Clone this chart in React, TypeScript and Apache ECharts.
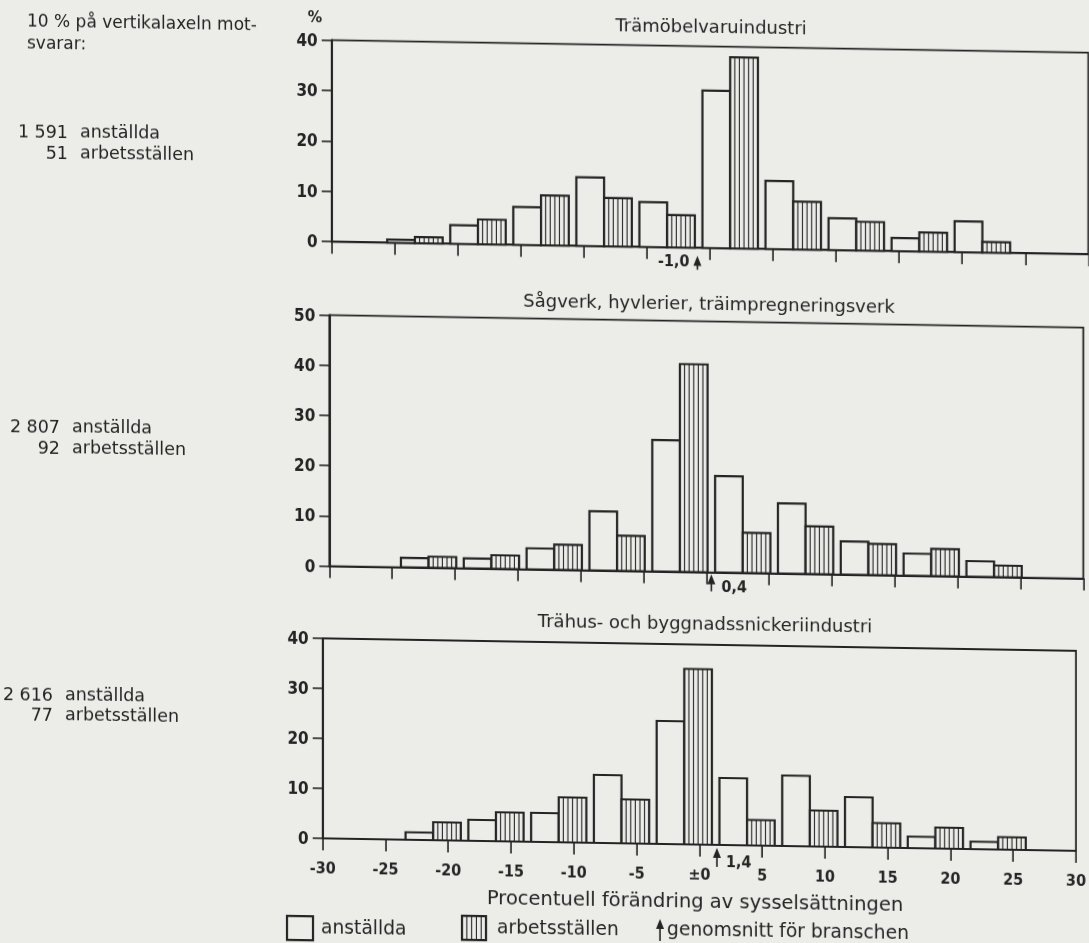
import React, { useEffect, useRef } from "react";
import * as echarts from "echarts";

// ---------- data ----------
const panelTitles = [
  "Trämöbelvaruindustri",
  "Sågverk, hyvlerier, träimpregneringsverk",
  "Trähus- och byggnadssnickeriindustri",
];
const employeesTotal = ["1 591", "2 807", "2 616"];
const workplacesTotal = ["51", "92", "77"];
const yMaxes = [40, 50, 40];

// bin centres (percentage change) of each pair of bars, as drawn in each panel
const binsTop = [-23.4, -18.4, -13.4, -8.4, -3.4, 1.6, 6.6, 11.6, 16.6, 21.6];
const binsMid = [-22.1, -17.1, -12.1, -7.1, -2.1, 2.9, 7.9, 12.9, 17.9, 22.9];
const binsBot = [-21.2, -16.2, -11.2, -6.2, -1.2, 3.8, 8.8, 13.8, 18.8, 23.8];

// % of employees (anställda) and of workplaces (arbetsställen)
const anstTop = [0.6, 3.7, 7.5, 13.6, 8.9, 31.2, 13.5, 6.3, 2.6, 6.1];
const arbTop = [1.2, 4.9, 9.9, 9.6, 6.4, 37.9, 9.5, 5.7, 3.8, 2.1];
const anstMid = [1.9, 2.0, 4.2, 11.8, 26.2, 19.2, 14.0, 6.6, 4.4, 3.1];
const arbMid = [2.2, 2.7, 5.0, 7.0, 41.4, 8.0, 9.5, 6.2, 5.4, 2.3];
const anstBot = [1.5, 4.2, 5.8, 13.6, 24.6, 13.4, 14.1, 10.0, 2.3, 1.5];
const arbBot = [3.6, 5.8, 9.0, 8.8, 35.1, 5.1, 7.2, 4.9, 4.2, 2.5];

// industry averages (genomsnitt för branschen)
const averages = [-1.0, 0.4, 1.4];

const noteLines = ["10 % på vertikalaxeln mot-", "svarar:"];
const xAxisTitle = "Procentuell förändring av sysselsättningen";
const legendLabels = ["anställda", "arbetsställen", "genomsnitt för branschen"];

// ---------- style ----------
const BG = "#ecece9";
const INK = "#242424";
const FONT = "'DejaVu Sans', 'Noto Sans', sans-serif";
const NUMFONT = "'Liberation Sans Narrow', 'DejaVu Sans Condensed', 'DejaVu Sans', sans-serif";
const T = 0.0165; // skew of the scanned page
const sy = (x: number, y: number) => y - x * T;

const HALF = 2.2;
const HATCH = 4.6;

const grids = [
  { left: 331.7, width: 756.6, top: sy(331.7, 40), height: 201.7 },
  { left: 329.3, width: 754, top: sy(329.3, 315), height: 251 },
  { left: 322.7, width: 757.5, top: sy(322.7, 638.3), height: 200 },
];

const arrowCfg = [
  { tip: 8, tail: 22, dx: -8, dy: 13, align: "right" },
  { tip: 2, tail: 19, dx: 10, dy: 14, align: "left" },
  { tip: 3, tail: 22, dx: 9, dy: 17, align: "left" },
];

function renderPair(params: any, api: any) {
  const c = api.value(0);
  const a = api.value(1);
  const b = api.value(2);
  const p0 = api.coord([c - HALF, 0]);
  const pm = api.coord([c, 0]);
  const p1 = api.coord([c + HALF, 0]);
  const ta = api.coord([c, a])[1];
  const tb = api.coord([c, b])[1];
  const children: any[] = [
    {
      type: "rect",
      shape: { x: p0[0], y: ta, width: pm[0] - p0[0], height: p0[1] - ta },
      style: { fill: BG, stroke: INK, lineWidth: 2.2 },
    },
    {
      type: "rect",
      shape: { x: pm[0], y: tb, width: p1[0] - pm[0], height: pm[1] - tb },
      style: { fill: BG, stroke: INK, lineWidth: 2.2 },
    },
  ];
  for (let x = pm[0] + HATCH; x < p1[0] - 1.5; x += HATCH) {
    children.push({
      type: "line",
      shape: { x1: x, y1: tb, x2: x, y2: pm[1] },
      style: { stroke: INK, lineWidth: 1.1 },
    });
  }
  return { type: "group", children };
}

function makeArrow(i: number) {
  const cfg = arrowCfg[i];
  return (params: any, api: any) => {
    const v = api.value(0);
    const p = api.coord([v, 0]);
    const label = v.toFixed(1).replace(".", ",");
    return {
      type: "group",
      children: [
        {
          type: "line",
          shape: { x1: p[0], y1: p[1] + cfg.tip + 6, x2: p[0], y2: p[1] + cfg.tail },
          style: { stroke: INK, lineWidth: 1.6 },
        },
        {
          type: "polygon",
          shape: {
            points: [
              [p[0], p[1] + cfg.tip],
              [p[0] - 4, p[1] + cfg.tip + 10],
              [p[0] + 4, p[1] + cfg.tip + 10],
            ],
          },
          style: { fill: INK },
        },
        {
          type: "text",
          x: p[0] + cfg.dx,
          y: p[1] + cfg.dy,
          style: {
            text: label,
            fill: INK,
            fontSize: 16,
            fontWeight: "bold",
            fontFamily: NUMFONT,
            align: cfg.align,
            verticalAlign: "middle",
            lineHeight: 15,
          },
        },
      ],
    };
  };
}

function txt(
  text: string,
  x: number,
  y: number,
  align: string,
  size: number,
  cx?: number,
  weight?: string,
  family?: string,
  lineHeight?: number
) {
  const centerX = cx !== undefined ? cx : x;
  return {
    type: "text",
    x,
    y: sy(centerX, y),
    silent: true,
    style: {
      text,
      fill: INK,
      fontSize: size,
      fontFamily: family || FONT,
      fontWeight: weight || "normal",
      align,
      verticalAlign: "middle",
      lineHeight: lineHeight || size,
    },
  };
}

export default function App() {
  const ref = useRef<HTMLDivElement>(null);

  useEffect(() => {
    document.body.style.margin = "0";
    document.body.style.background = BG;
    if (!ref.current) return;
    const chart = echarts.init(ref.current, undefined, { renderer: "svg" });

    const binSets = [binsTop, binsMid, binsBot];
    const anstSets = [anstTop, anstMid, anstBot];
    const arbSets = [arbTop, arbMid, arbBot];

    const graphics: any[] = [];
    // left notes
    graphics.push(txt(noteLines[0], 27, 22.5, "left", 17, 150));
    graphics.push(txt(noteLines[1], 27, 43, "left", 17, 60));
    const blocks = [
      { num: 68, word: 80, y1: 132, y2: 153 },
      { num: 60, word: 72, y1: 427, y2: 448 },
      { num: 53, word: 65, y1: 695, y2: 715 },
    ];
    blocks.forEach((b, i) => {
      graphics.push(txt(employeesTotal[i], b.num, b.y1, "right", 17.5, 40));
      graphics.push(txt("anställda", b.word, b.y1, "left", 17.5, b.word + 45));
      graphics.push(txt(workplacesTotal[i], b.num, b.y2, "right", 17.5, 55));
      graphics.push(txt("arbetsställen", b.word, b.y2, "left", 17.5, b.word + 60));
    });
    // % label
    graphics.push(txt("%", 315, 17, "center", 16, 315, "bold", NUMFONT));
    // panel titles
    const titlePos = [
      [711, 26],
      [709, 303],
      [705, 623],
    ];
    panelTitles.forEach((t, i) => {
      graphics.push(txt(t, titlePos[i][0], titlePos[i][1], "center", 18));
    });
    // axis title
    graphics.push(txt(xAxisTitle, 695, 900.5, "center", 19.5, 695, "normal", FONT, 16));
    // legend
    const lgY = 928;
    graphics.push({
      type: "rect",
      shape: { x: 287, y: sy(300, lgY - 12), width: 26, height: 24 },
      style: { fill: BG, stroke: INK, lineWidth: 2.2 },
    });
    graphics.push(txt(legendLabels[0], 321, lgY, "left", 18.7, 365));
    const hx = 462;
    const hy = sy(474, lgY - 12);
    const hatchBox: any[] = [
      { type: "rect", shape: { x: hx, y: hy, width: 24, height: 24 }, style: { fill: BG, stroke: INK, lineWidth: 2.2 } },
    ];
    for (let k = 1; k < 5; k++) {
      hatchBox.push({
        type: "line",
        shape: { x1: hx + k * 4.8, y1: hy, x2: hx + k * 4.8, y2: hy + 24 },
        style: { stroke: INK, lineWidth: 1.1 },
      });
    }
    graphics.push({ type: "group", children: hatchBox });
    graphics.push(txt(legendLabels[1], 497, lgY, "left", 18.7, 557));
    const ax = 660;
    const ay = sy(660, 919);
    graphics.push({
      type: "line",
      shape: { x1: ax, y1: ay + 6, x2: ax, y2: ay + 22 },
      style: { stroke: INK, lineWidth: 1.6 },
    });
    graphics.push({
      type: "polygon",
      shape: { points: [[ax, ay], [ax - 4, ay + 10], [ax + 4, ay + 10]] },
      style: { fill: INK },
    });
    graphics.push(txt(legendLabels[2], 667, lgY + 2, "left", 18.7, 787));

    const option: any = {
      animation: false,
      backgroundColor: BG,
      grid: grids.map((g) => ({
        left: g.left,
        top: g.top,
        width: g.width,
        height: g.height,
        show: true,
        borderColor: INK,
        borderWidth: 1.8,
        backgroundColor: "transparent",
        containLabel: false,
      })),
      xAxis: [0, 1, 2].map((i) => ({
        type: "value",
        gridIndex: i,
        min: -30,
        max: 30,
        interval: 5,
        axisLine: { show: true, onZero: false, lineStyle: { color: INK, width: 2 } },
        axisTick: { show: true, inside: false, length: 12, lineStyle: { color: INK, width: 1.6 } },
        axisLabel: {
          show: i === 2,
          color: INK,
          fontSize: 16,
          fontWeight: "bold",
          fontFamily: NUMFONT,
          margin: 23,
          lineHeight: 14,
          formatter: (v: number) => (v === 0 ? "±0" : String(v)),
        },
        splitLine: { show: false },
      })),
      yAxis: [0, 1, 2].map((i) => ({
        type: "value",
        gridIndex: i,
        min: 0,
        max: yMaxes[i],
        interval: 10,
        axisLine: { show: true, onZero: false, lineStyle: { color: INK, width: 2 } },
        axisTick: { show: true, inside: false, length: 10, lineStyle: { color: INK, width: 1.6 } },
        axisLabel: {
          color: INK,
          fontSize: 17,
          fontWeight: "bold",
          fontFamily: NUMFONT,
          margin: 14,
          lineHeight: 15,
        },
        splitLine: { show: false },
      })),
      series: [
        ...[0, 1, 2].map((i) => ({
          type: "custom",
          name: panelTitles[i],
          xAxisIndex: i,
          yAxisIndex: i,
          coordinateSystem: "cartesian2d",
          clip: false,
          encode: { x: 0, y: 1 },
          renderItem: renderPair,
          data: binSets[i].map((c, k) => [c, anstSets[i][k], arbSets[i][k]]),
        })),
        ...[0, 1, 2].map((i) => ({
          type: "custom",
          name: "genomsnitt " + i,
          xAxisIndex: i,
          yAxisIndex: i,
          coordinateSystem: "cartesian2d",
          clip: false,
          encode: { x: 0, y: 1 },
          renderItem: makeArrow(i),
          data: [[averages[i], 0]],
        })),
      ],
      graphic: { elements: graphics },
    };
    chart.setOption(option);
    return () => chart.dispose();
  }, []);

  return (
    <div
      ref={ref}
      style={{
        position: "fixed",
        left: 0,
        top: 0,
        width: 1089,
        height: 943,
        background: BG,
        transform: "skewY(0.95deg)",
        transformOrigin: "0 0",
      }}
    />
  );
}
